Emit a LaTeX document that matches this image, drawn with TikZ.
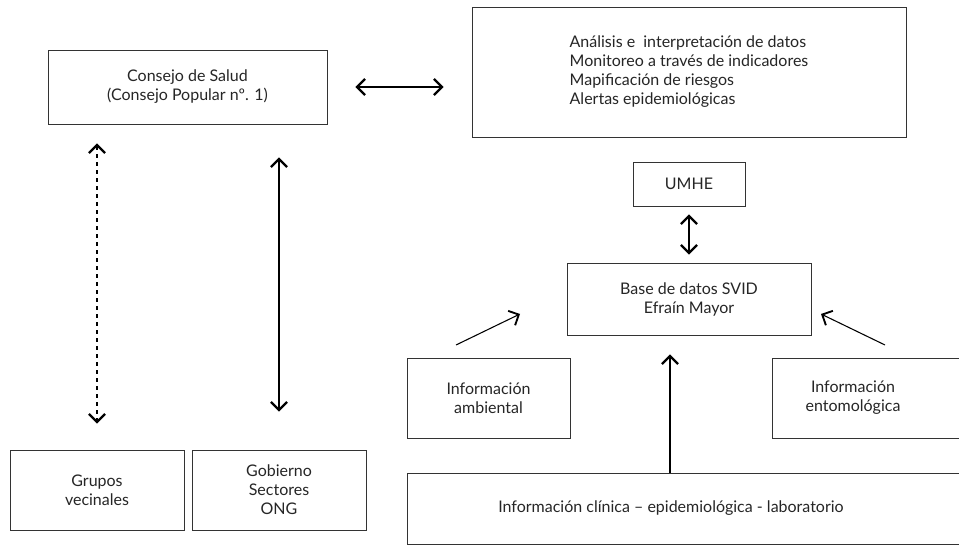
\documentclass[tikz,border=0pt]{standalone}
\usepackage{fontspec}
\setmainfont{Lato}
\usetikzlibrary{arrows.meta,fit}
\begin{document}
\begin{tikzpicture}[x=0.75pt,y=-0.75pt,
  box/.style={draw=black!80, line width=0.7pt, inner sep=0pt, rectangle},
  txt/.style={font=\fontsize{12}{14.25}\selectfont, align=center, text=black!85, inner sep=0pt},
  darr/.style={line width=1.3pt, {Straight Barb[length=6pt,width=12pt,line width=1.7pt]}-{Straight Barb[length=6pt,width=12pt,line width=1.7pt]}},
  uarr/.style={line width=1.3pt, -{Straight Barb[length=6pt,width=12pt,line width=1.7pt]}},
  tarr/.style={line width=0.8pt, -{Straight Barb[length=6pt,width=12pt,line width=1.4pt]}},
  dotarr/.style={darr, dash pattern=on 2.6pt off 3.4pt}]
\useasboundingbox (0,0) rectangle (959,545);
\clip (0,0) rectangle (959,545);
\fill[white] (0,0) rectangle (959,545);

\node[box, fit={(48,50) (327,124)}] (consejo) {};
\node[txt] (consejotxt) at (consejo.center) {Consejo de Salud\\(Consejo Popular nº. 1)};
\node[box, fit={(472,7) (906,137)}] (analisis) {};
\node[txt, align=left] (analisistxt) at (analisis.center) {Análisis e\ \ interpretación de datos\\Monitoreo a través de indicadores\\Mapificación de riesgos\\Alertas epidemiológicas};
\node[box, fit={(633,162) (745,206)}] (umhe) {};
\node[txt] (umhetxt) at (umhe.center) {UMHE};
\node[box, fit={(567,263) (811,335)}] (base) {};
\node[txt] (basetxt) at ([yshift=-0.5pt]base.center) {Base de datos SVID\\Efraín Mayor};
\node[box, fit={(407,358) (570,438)}] (amb) {};
\node[txt] (ambtxt) at (amb.center) {Información\\ambiental};
\node[box, fit={(772,358) (975,438)}] (ento) {};
\node[txt] (entotxt) at (853,398) {Información\\entomológica};
\node[box, fit={(407,473) (975,544)}] (clin) {};
\node[txt] (clintxt) at (671,508) {Información clínica – epidemiológica - laboratorio};
\node[box, fit={(10,450) (184,530)}] (grupos) {};
\node[txt] (grupostxt) at (grupos.center) {Grupos\\vecinales};
\node[box, fit={(192,450) (366,530)}] (gob) {};
\node[txt] (gobtxt) at (gob.center) {Gobierno\\Sectores\\ONG};

\coordinate (ambs) at (456,345);
\coordinate (ambe) at (520,314);
\coordinate (entos) at (885,345);
\coordinate (entoe) at (821,314);

\draw[darr, shorten <=21pt, shorten >=21pt] (consejo.east) -- (analisis.west |- consejo.east);
\draw[dotarr, shorten <=14.25pt, shorten >=19.5pt] (consejo.south -| grupos.north) -- (grupos.north);
\draw[darr, shorten <=24.75pt, shorten >=28.5pt] (consejo.south -| gob.north) -- (gob.north);
\draw[darr, shorten <=6pt, shorten >=6pt] (umhe.south) -- (base.north -| umhe.south);
\draw[uarr, shorten >=14.25pt] (clin.north -| 670,0) -- (base.south -| 670,0);
\draw[tarr] (ambs) -- (ambe);
\draw[tarr] (entos) -- (entoe);
\end{tikzpicture}
\end{document}
